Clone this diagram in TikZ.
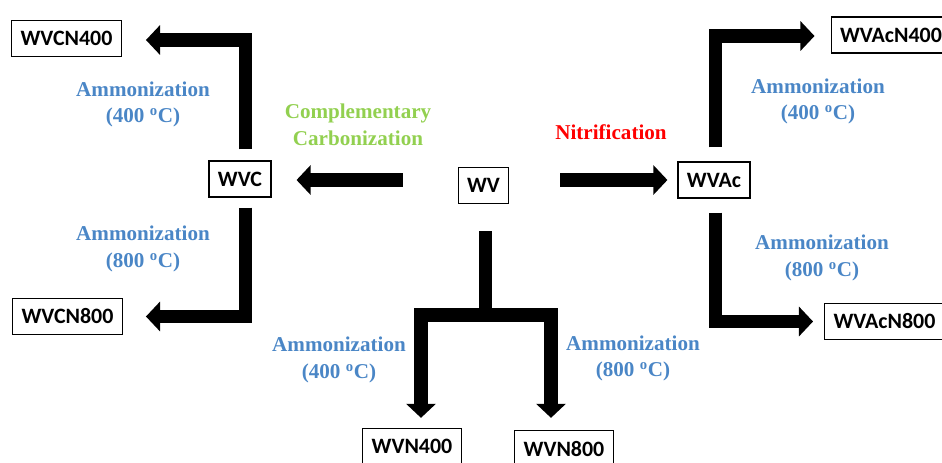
\documentclass[tikz,border=0pt]{standalone}
\usepackage{fontspec}
\setmainfont{Liberation Serif}
\newfontfamily\boxfont{Carlito}
\usetikzlibrary{arrows.meta,calc}

\definecolor{ammblue}{RGB}{74,134,198}
\definecolor{carbgreen}{RGB}{146,208,80}

\tikzset{
  sample/.style={draw, line width=0.9pt, inner xsep=6.3pt, minimum height=0.9cm,
    font=\boxfont\bfseries\fontsize{15.6}{18}\selectfont},
  steplabel/.style={align=center, font=\bfseries\fontsize{15}{19}\selectfont},
  bigarrow/.style={line width=9.9pt, -{Triangle[width=20.6pt,length=10pt]}}
}

\begin{document}
\begin{tikzpicture}[x=0.025cm,y=-0.025cm]
    \useasboundingbox (0,0) rectangle (942,462);

    % samples
    \node[sample] (wv) at (483.5,185.5) {WV};
    \node[sample] (wvc) at (240,179) {WVC};
    \node[sample] (wvac) at (714,180) {WVAc};
    \node[sample] (wvcn400) at (66.5,38.5) {WVCN400};
    \node[sample] (wvcn800) at (67.5,316.5) {WVCN800};
    \node[sample] (wvacn400) at (891,35) {WVAcN400};
    \node[sample] (wvacn800) at (884.5,321.5) {WVAcN800};
    \node[sample] (wvn400) at (412,446.5) {WVN400};
    \node[sample] (wvn800) at (564,448.5) {WVN800};

    % arrows
    \draw[bigarrow] ($(wv.west)+(-55,-5.5)$) -- ($(wvc.east)+(25,1)$);
    \draw[bigarrow] ($(wv.east)+(51,-5.5)$) -- ($(wvac.west)+(-10,0)$);
    \draw[bigarrow] ($(wvc.north)+(5.5,-11)$) |- ($(wvcn400.east)+(24,1.5)$);
    \draw[bigarrow] ($(wvc.south)+(5.5,10)$) |- ($(wvcn800.east)+(23,0)$);
    \draw[bigarrow] ($(wvac.north)+(1.5,-14)$) |- ($(wvacn400.west)+(-16,1)$);
    \draw[bigarrow] ($(wvac.south)+(1.5,14)$) |- ($(wvacn800.west)+(-11,0)$);
    \coordinate (split) at ($(wv.south)+(2,111)$);
    \draw[bigarrow] ($(wv.south)+(2,27)$) -- (split) -| ($(wvn400.north)+(9,-10)$);
    \draw[bigarrow] (split) -| ($(wvn800.north)+(-13,-12)$);

    % labels
    \node[steplabel, carbgreen] (carb) at (358,125) {Complementary\\Carbonization};
    \node[steplabel, red] (nitr) at (611,132) {Nitrification};
    \node[steplabel, ammblue] (amm1) at (143,104.5) {Ammonization\\(400 \textsuperscript{o}C)};
    \node[steplabel, ammblue] (amm2) at (143,249) {Ammonization\\(800 \textsuperscript{o}C)};
    \node[steplabel, ammblue] (amm3) at (818,101.5) {Ammonization\\(400 \textsuperscript{o}C)};
    \node[steplabel, ammblue] (amm4) at (822,258) {Ammonization\\(800 \textsuperscript{o}C)};
    \node[steplabel, ammblue] (amm5) at (339,360) {Ammonization\\(400 \textsuperscript{o}C)};
    \node[steplabel, ammblue] (amm6) at (633,358.5) {Ammonization\\(800 \textsuperscript{o}C)};
\end{tikzpicture}
\end{document}
